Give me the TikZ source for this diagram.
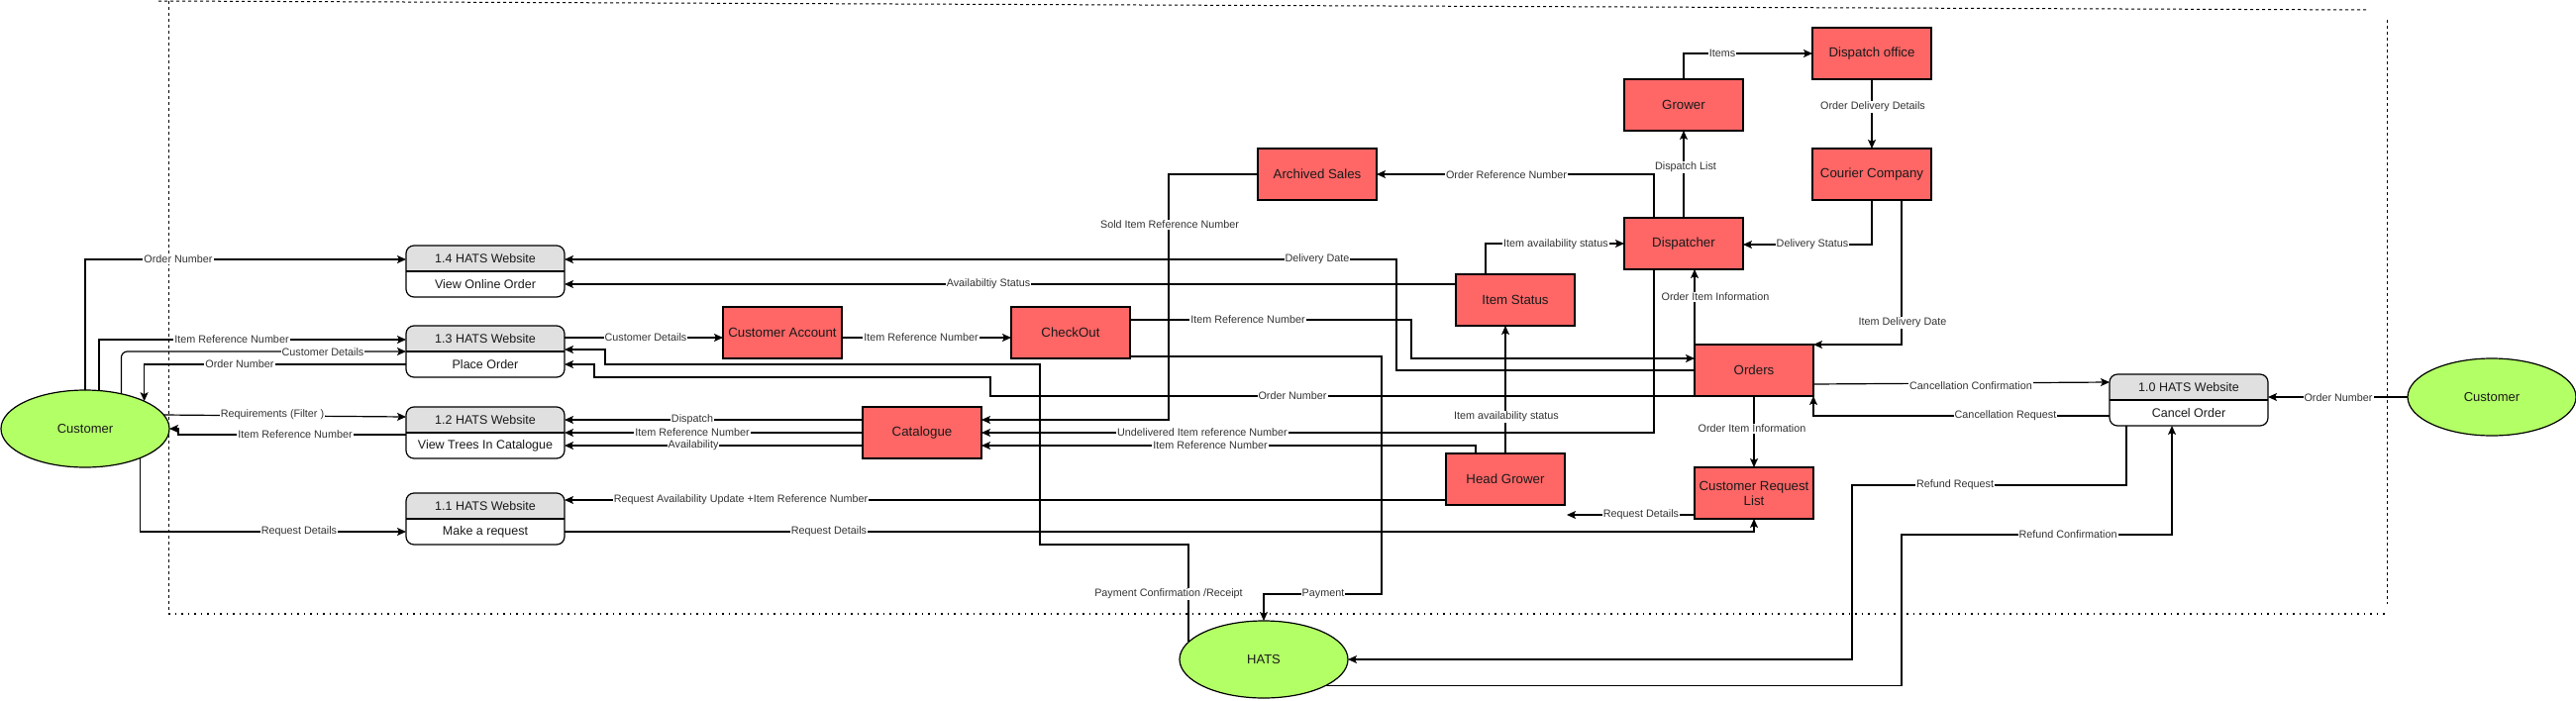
\documentclass[tikz,border=0pt]{standalone}
\usepackage{fontspec}
\setmainfont{Liberation Sans}
\usetikzlibrary{arrows.meta,calc,shapes.geometric}
\definecolor{redbox}{HTML}{FF6666}
\definecolor{greenell}{HTML}{B3FF66}
\definecolor{hdrgray}{HTML}{E0E0E0}
\definecolor{txt}{HTML}{1A1A1A}
\definecolor{lbltxt}{HTML}{333333}
\tikzset{
 store/.style={draw=black, line width=1.4pt, fill=redbox, minimum width=120pt, minimum height=52pt, inner sep=2pt, outer sep=0pt, align=center, text=txt, font=\fontsize{13.3}{15}\selectfont},
 entity/.style={ellipse, draw=black, line width=1.2pt, fill=greenell, minimum width=170pt, minimum height=78pt, inner sep=0pt, outer sep=0pt, text=txt, font=\fontsize{13}{15}\selectfont},
 procbox/.style={minimum width=160pt, minimum height=52pt, inner sep=0pt, outer sep=0pt},
 proctext/.style={text=txt, inner sep=0pt, font=\fontsize{12.5}{14}\selectfont},
 flow/.style={line width=1.2pt, draw=black, -{Stealth[length=9pt,width=8pt,inset=2pt]}},
 plainflow/.style={line width=1.2pt, draw=black},
 lbl/.style={fill=white, text=lbltxt, inner sep=1pt, font=\fontsize{10.8}{12}\selectfont},
 framedash/.style={line width=1pt, draw=black, dash pattern=on 3pt off 3pt},
 framedot/.style={line width=1.5pt, draw=black, dash pattern=on 1.5pt off 5pt},
}
\newcommand\mkproc[4]{%
 \node[procbox] (#1) at (#2) {};
 \fill[white, rounded corners=8pt] (#1.north west) rectangle (#1.south east);
 \begin{scope}
 \clip[rounded corners=8pt] (#1.north west) rectangle (#1.south east);
 \fill[hdrgray] (#1.north west) rectangle (#1.east);
 \end{scope}
 \draw[line width=1.2pt, rounded corners=8pt] (#1.north west) rectangle (#1.south east);
 \draw[line width=1.2pt] (#1.west) -- (#1.east);
 \node[proctext] (#1h) at ($(#1.north)!0.5!(#1.center)$) {#3};
 \node[proctext] (#1b) at ($(#1.south)!0.5!(#1.center)$) {#4};
}
\begin{document}
\begin{tikzpicture}[x=1pt,y=-1pt]
\useasboundingbox (0,0) rectangle (2601,707);
% frame
\draw[framedash] (160,1) -- (2390,10);
\draw[framedash] (170,1) -- (170,620);
\draw[framedash] (2410,20) -- (2410,610);
\draw[framedot] (170,620) -- (2408,620);

% entities
\node[entity] (custL) at (86,433) {Customer};
\node[entity] (custR) at (2516,401) {Customer};
\node[entity] (hats) at (1276,666) {HATS};

% processes
\mkproc{p14}{490,274}{1.4 HATS Website}{View Online Order}
\mkproc{p13}{490,355}{1.3 HATS Website}{Place Order}
\mkproc{p12}{490,437}{1.2 HATS Website}{View Trees In Catalogue}
\mkproc{p11}{490,524}{1.1 HATS Website}{Make a request}
\mkproc{p10}{2210,404}{1.0 HATS Website}{Cancel Order}

% stores / external boxes
\node[store] (custacc) at (790,336) {Customer Account};
\node[store] (checkout) at (1081,336) {CheckOut};
\node[store] (catalogue) at (931,437) {Catalogue};
\node[store] (archived) at (1330,176) {Archived Sales};
\node[store] (itemstatus) at (1530,303) {Item Status};
\node[store] (dispatcher) at (1700,246) {Dispatcher};
\node[store] (grower) at (1700,106) {Grower};
\node[store] (dispoffice) at (1890,54) {Dispatch office};
\node[store] (courier) at (1890,176) {Courier Company};
\node[store] (orders) at (1771,374) {Orders};
\node[store] (crl) at (1771,498) {Customer Request\\List};
\node[store] (headgrower) at (1520,484) {Head Grower};
\coordinate (reqend) at (1582,520);

% connectors
\draw[flow] (custL.north) |- ([yshift=12]p14.west);
\draw[flow] (custL.70) |- ([yshift=12]p13.west);
\draw[flow, rounded corners=6pt] (custL.44) |- (p13.west);
\draw[flow] ([yshift=-13]p13.west) -| (custL.25);
\draw[flow] (custL.10) -- ([yshift=16]p12.west);
\draw[flow] ([yshift=-2]p12.west) -- (180,439) -- (180,433) -- (custL.east);
\draw[flow] (custL.-28) |- ([yshift=-13]p11.west);

\draw[flow] (orders.west) -- (1410,374) |- ([yshift=12]p14.east);
\draw[flow] ([yshift=16]itemstatus.west) -- ([yshift=-13]p14.east);
\draw[flow] ([yshift=14]p13.east) -- ([yshift=-5]custacc.west);
\draw[flow] (hats.167) |- (1050,550) -- (1050,368) -- (611,368) -- (611,353) -- ([yshift=2]p13.east);
\draw[flow] (orders.south west) -- (1000,400) -- (1000,381) -- (600,381) -- (600,368) -- ([yshift=-13]p13.east);
\draw[flow] ([yshift=-5]custacc.east) -- ([yshift=-5]checkout.west);
\draw[flow] ([yshift=13]checkout.east) -- (1425,323) |- ([yshift=12]orders.west);
\draw[flow] ([yshift=-24]checkout.east) -| (1395,600) -| (hats.north);

\draw[flow] ([yshift=13]catalogue.west) -- ([yshift=13]p12.east);
\draw[flow] (catalogue.west) -- (p12.east);
\draw[flow] ([yshift=-13]catalogue.west) -- ([yshift=-13]p12.east);
\draw[flow] (archived.west) -- (1180,176) -- (1180,424) -- ([yshift=13]catalogue.east);
\draw[flow] ([xshift=-30]dispatcher.south) |- (catalogue.east);
\draw[flow] ([xshift=-30]headgrower.north) |- ([yshift=-13]catalogue.east);

\draw[flow] (headgrower.north) -- (headgrower.north |- itemstatus.south);
\draw[flow] ([xshift=-30]itemstatus.north) |- (dispatcher.west);
\draw[flow] ([xshift=-30]dispatcher.north) |- (archived.east);
\draw[flow] (dispatcher.north) -- (grower.south);
\draw[flow] (grower.north) |- (dispoffice.west);
\draw[flow] (dispoffice.south) -- (courier.north);
\draw[flow] (courier.south) |- ([yshift=-1]dispatcher.east);
\draw[flow] ([xshift=30]courier.south) |- (orders.north east);
\draw[flow] (orders.north west) -- (orders.north west |- dispatcher.south);
\draw[flow] (orders.south) -- (crl.north);
\draw[flow] ([yshift=-22]crl.west) -- (reqend);
\draw[flow] ([yshift=-13]p11.east) -| (crl.south);
\draw[flow] ([yshift=-21]headgrower.west) -- ([yshift=19]p11.east);

\draw[flow] ([yshift=-14]orders.east) -- ([yshift=18]p10.west);
\draw[flow] ([yshift=-16]p10.west) -| (orders.south east);
\draw[flow] (custR.west) -- (custR.west -| p10.east);
\draw[flow] ([xshift=-63]p10.south) |- (1870,490) |- (hats.east);
\draw[flow] (hats.-23) -| (1920,540) -| ([xshift=-17]p10.south);

% labels
\node[lbl] (l1) at (180,262) {Order Number};
\node[lbl] (l2) at (234,343) {Item Reference Number};
\node[lbl] (l3) at (326,356) {Customer Details};
\node[lbl] (l4) at (242,368) {Order Number};
\node[lbl] (l5) at (275,419) {Requirements (Filter )};
\node[lbl] (l6) at (298,439) {Item Reference Number};
\node[lbl] (l7) at (302,537) {Request Details};
\node[lbl] (l8) at (1330,262) {Delivery Date};
\node[lbl] (l9) at (998,287) {Availabiltiy Status};
\node[lbl] (l10) at (652,341) {Customer Details};
\node[lbl] (l11) at (1180,600) {Payment Confirmation /Receipt};
\node[lbl] (l12) at (1305,400) {Order Number};
\node[lbl] (l13) at (930,341) {Item Reference Number};
\node[lbl] (l14) at (1260,323) {Item Reference Number};
\node[lbl] (l15) at (1336,600) {Payment};
\node[lbl] (l16) at (699,424) {Dispatch};
\node[lbl] (l17) at (699,437) {Item Reference Number};
\node[lbl] (l18) at (700,450) {Availability};
\node[lbl] (l19) at (1181,227) {Sold Item Reference Number};
\node[lbl] (l20) at (1214,437) {Undelivered Item reference Number};
\node[lbl] (l21) at (1222,450) {Item Reference Number};
\node[lbl] (l22) at (1521,421) {Item availability status};
\node[lbl] (l23) at (1571,247) {Item availability status};
\node[lbl] (l24) at (1521,177) {Order Reference Number};
\node[lbl] (l25) at (1702,169) {Dispatch List};
\node[lbl] (l26) at (1739,54) {Items};
\node[lbl] (l27) at (1891,108) {Order Delivery Details};
\node[lbl] (l28) at (1830,247) {Delivery Status};
\node[lbl] (l29) at (1921,326) {Item Delivery Date};
\node[lbl] (l30) at (1732,300) {Order Item Information};
\node[lbl] (l31) at (1769,433) {Order Item Information};
\node[lbl] (l32) at (1657,520) {Request Details};
\node[lbl] (l33) at (837,537) {Request Details};
\node[lbl] (l34) at (748,505) {Request Availability Update +Item Reference Number};
\node[lbl] (l35) at (1990,390) {Cancellation Confirmation};
\node[lbl] (l36) at (2025,420) {Cancellation Request};
\node[lbl] (l37) at (2361,402) {Order Number};
\node[lbl] (l38) at (1974,490) {Refund Request};
\node[lbl] (l39) at (2088,540) {Refund Confirmation};
\end{tikzpicture}
\end{document}
